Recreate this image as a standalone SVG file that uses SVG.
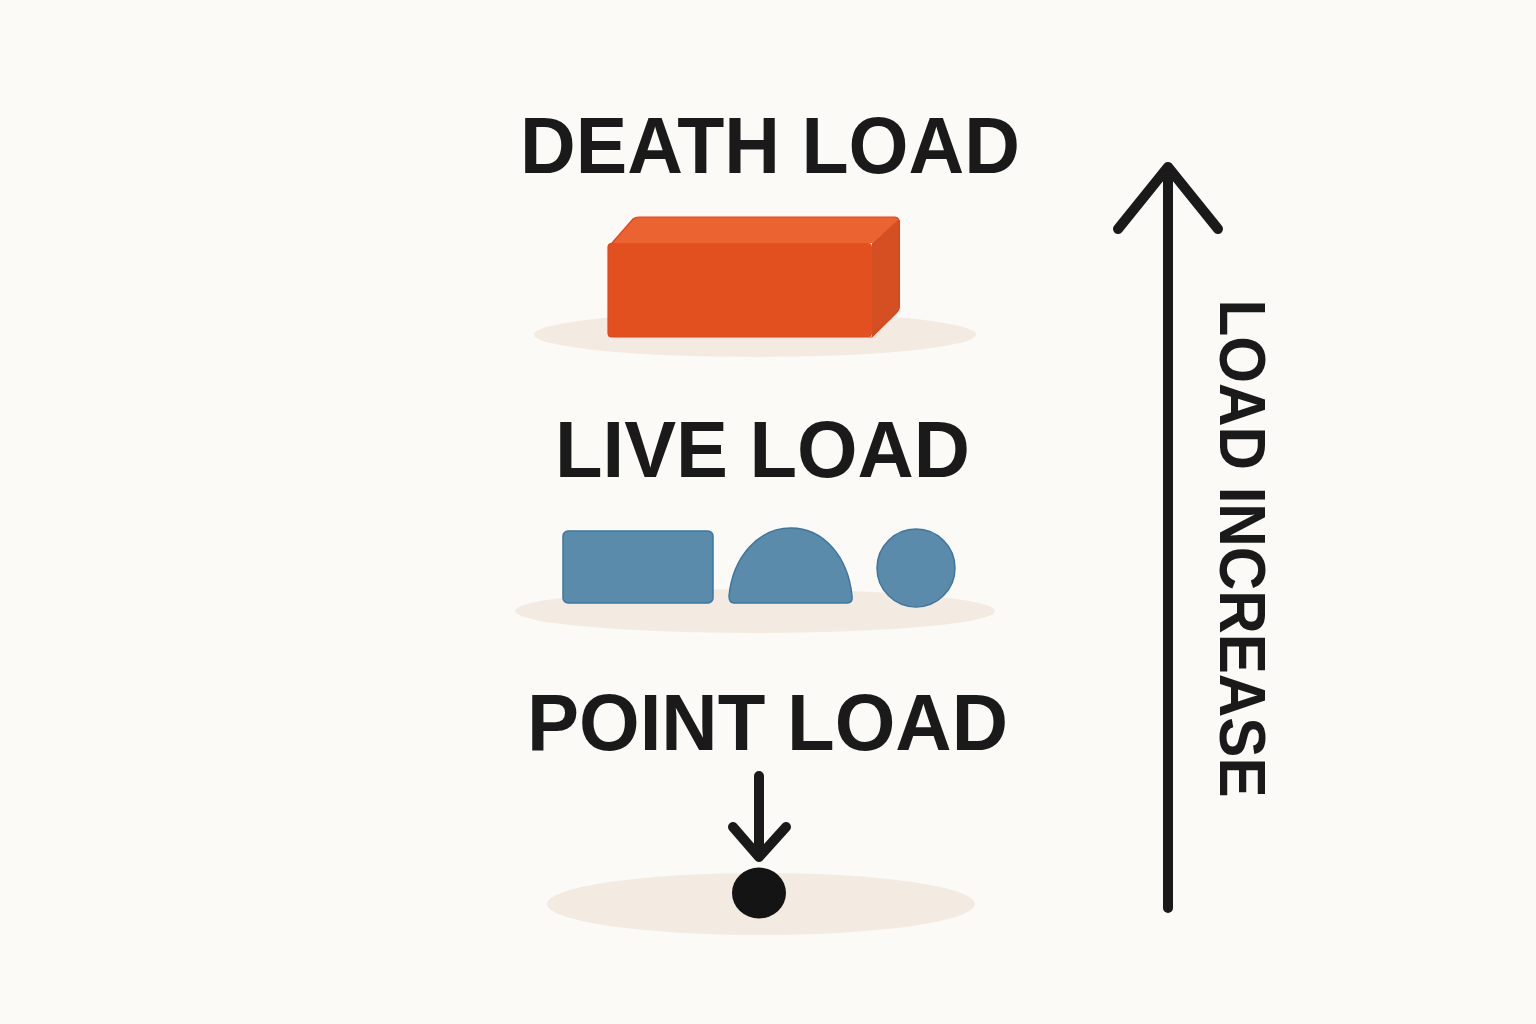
<svg xmlns="http://www.w3.org/2000/svg" width="1536" height="1024" viewBox="0 0 1536 1024">
  <style>
    .title { font-family: "Liberation Sans", Arial, sans-serif; font-weight: bold; fill: #1a1a1a; text-anchor: middle; }
    .shadow { fill: #F3EBE1; }
    .blue { fill: #5B8BAB; stroke: #3F76A0; stroke-width: 1.5; }
    .ink { fill: none; stroke: #1a1a1a; stroke-linecap: round; stroke-linejoin: round; }
  </style>
  <rect x="0" y="0" width="1536" height="1024" fill="#FBFAF7"/>

  <g id="death-load">
    <text class="title" x="770" y="173" font-size="80" textLength="500" lengthAdjust="spacingAndGlyphs">DEATH LOAD</text>
    <ellipse class="shadow" cx="755" cy="334.5" rx="221" ry="22.5"/>
    <path d="M612 243 L633 219 Q635 217 639 217 L895 217 Q899 217 898 221 L872 243 Z" fill="#EA6331"/>
    <path d="M872 243 L898 220 Q900 219 900 223 L900 307 Q900 310 897 313 L872 337 Z" fill="#D44F22"/>
    <rect x="608" y="243" width="264" height="94" rx="4" fill="#E35020"/>
    <path d="M612 243 L633 219 Q635 217 639 217 L895 217 Q900 218 899 223 L899 307 Q899 310 896 313 L872 337 L612 337 Q608 337 608 333 L608 247 Q608 244 612 243 Z" fill="none" stroke="#E4431A" stroke-width="1.2"/>
  </g>

  <g id="live-load">
    <text class="title" x="762.5" y="477" font-size="80" textLength="415" lengthAdjust="spacingAndGlyphs">LIVE LOAD</text>
    <ellipse class="shadow" cx="755" cy="611" rx="240" ry="22"/>
    <rect class="blue" x="563" y="531" width="150" height="72" rx="5"/>
    <path class="blue" d="M734 603 L847 603 Q853 603 852 596 C848 556 823 528 791 528 C759 528 733 556 729 596 Q729 603 734 603 Z"/>
    <circle class="blue" cx="916" cy="568" r="39"/>
  </g>

  <g id="point-load">
    <text class="title" x="767.5" y="750" font-size="80" textLength="481" lengthAdjust="spacingAndGlyphs">POINT LOAD</text>
    <ellipse class="shadow" cx="761" cy="904" rx="214" ry="31"/>
    <ellipse cx="759" cy="893" rx="27" ry="25.5" fill="#141414"/>
  </g>

  <g id="connectors">
    <path class="ink" stroke-width="10" d="M759 776 L759 856 M733 827 L759 857 L786 827"/>
    <path class="ink" stroke-width="10" d="M1168 908 L1168 168 M1118 229 L1168 167 L1218 229"/>
  </g>

  <g id="load-increase-label">
    <text class="title" transform="translate(1220,548.5) rotate(90)" x="0" y="0" font-size="64" textLength="498" lengthAdjust="spacingAndGlyphs">LOAD INCREASE</text>
  </g>
</svg>
